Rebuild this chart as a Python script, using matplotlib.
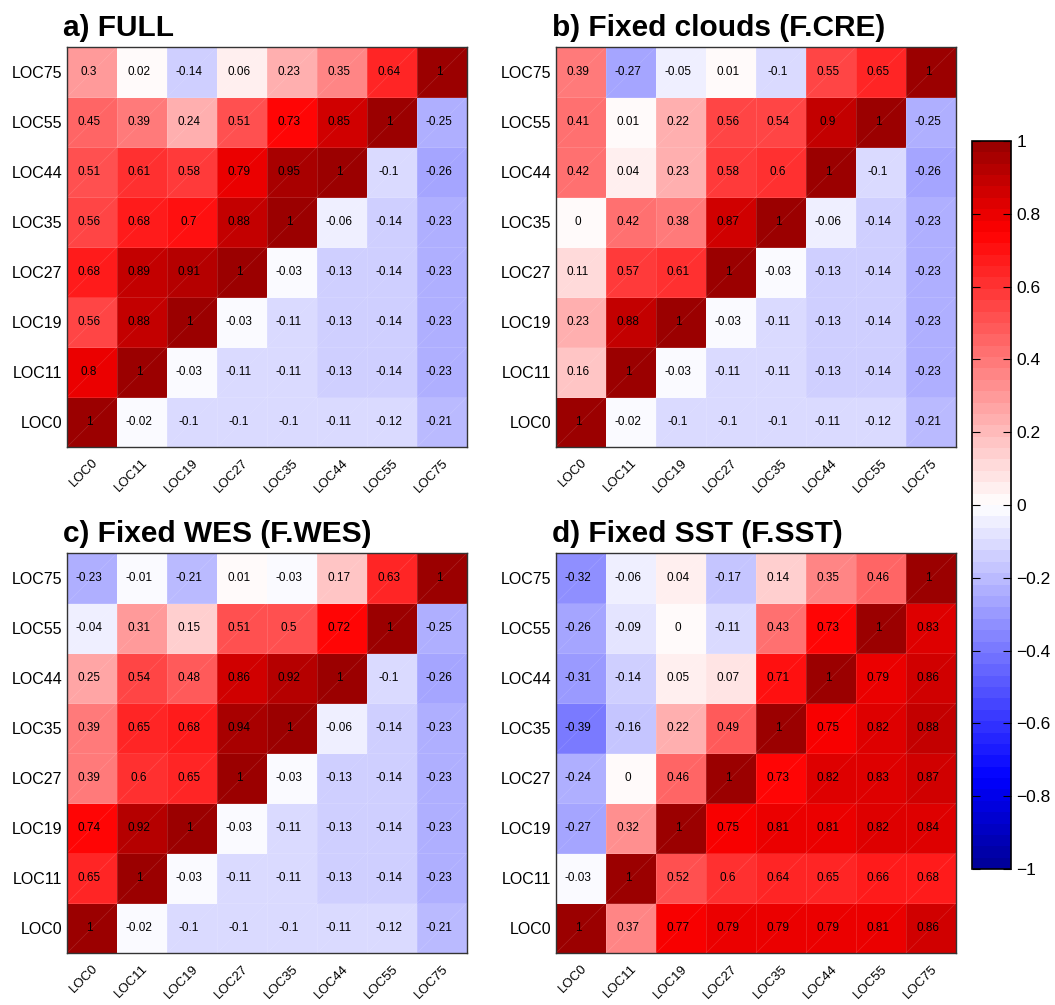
import numpy as np
import matplotlib
matplotlib.use("Agg")
import matplotlib.pyplot as plt
from matplotlib.colors import ListedColormap, BoundaryNorm

plt.rcParams['font.family'] = ['Liberation Sans', 'DejaVu Sans']

# station labels, bottom to top on the y axis, left to right on the x axis
locs = ["LOC0", "LOC11", "LOC19", "LOC27", "LOC35", "LOC44", "LOC55", "LOC75"]

# correlation matrices as printed, top row (LOC75) first
full = [
    [0.3, 0.02, -0.14, 0.06, 0.23, 0.35, 0.64, 1],
    [0.45, 0.39, 0.24, 0.51, 0.73, 0.85, 1, -0.25],
    [0.51, 0.61, 0.58, 0.79, 0.95, 1, -0.1, -0.26],
    [0.56, 0.68, 0.7, 0.88, 1, -0.06, -0.14, -0.23],
    [0.68, 0.89, 0.91, 1, -0.03, -0.13, -0.14, -0.23],
    [0.56, 0.88, 1, -0.03, -0.11, -0.13, -0.14, -0.23],
    [0.8, 1, -0.03, -0.11, -0.11, -0.13, -0.14, -0.23],
    [1, -0.02, -0.1, -0.1, -0.1, -0.11, -0.12, -0.21],
]
fixed_cre = [
    [0.39, -0.27, -0.05, 0.01, -0.1, 0.55, 0.65, 1],
    [0.41, 0.01, 0.22, 0.56, 0.54, 0.9, 1, -0.25],
    [0.42, 0.04, 0.23, 0.58, 0.6, 1, -0.1, -0.26],
    [0, 0.42, 0.38, 0.87, 1, -0.06, -0.14, -0.23],
    [0.11, 0.57, 0.61, 1, -0.03, -0.13, -0.14, -0.23],
    [0.23, 0.88, 1, -0.03, -0.11, -0.13, -0.14, -0.23],
    [0.16, 1, -0.03, -0.11, -0.11, -0.13, -0.14, -0.23],
    [1, -0.02, -0.1, -0.1, -0.1, -0.11, -0.12, -0.21],
]
fixed_wes = [
    [-0.23, -0.01, -0.21, 0.01, -0.03, 0.17, 0.63, 1],
    [-0.04, 0.31, 0.15, 0.51, 0.5, 0.72, 1, -0.25],
    [0.25, 0.54, 0.48, 0.86, 0.92, 1, -0.1, -0.26],
    [0.39, 0.65, 0.68, 0.94, 1, -0.06, -0.14, -0.23],
    [0.39, 0.6, 0.65, 1, -0.03, -0.13, -0.14, -0.23],
    [0.74, 0.92, 1, -0.03, -0.11, -0.13, -0.14, -0.23],
    [0.65, 1, -0.03, -0.11, -0.11, -0.13, -0.14, -0.23],
    [1, -0.02, -0.1, -0.1, -0.1, -0.11, -0.12, -0.21],
]
fixed_sst = [
    [-0.32, -0.06, 0.04, -0.17, 0.14, 0.35, 0.46, 1],
    [-0.26, -0.09, 0, -0.11, 0.43, 0.73, 1, 0.83],
    [-0.31, -0.14, 0.05, 0.07, 0.71, 1, 0.79, 0.86],
    [-0.39, -0.16, 0.22, 0.49, 1, 0.75, 0.82, 0.88],
    [-0.24, 0, 0.46, 1, 0.73, 0.82, 0.83, 0.87],
    [-0.27, 0.32, 1, 0.75, 0.81, 0.81, 0.82, 0.84],
    [-0.03, 1, 0.52, 0.6, 0.64, 0.65, 0.66, 0.68],
    [1, 0.37, 0.77, 0.79, 0.79, 0.79, 0.81, 0.86],
]
titles = ["a) FULL", "b) Fixed clouds (F.CRE)", "c) Fixed WES (F.WES)", "d) Fixed SST (F.SST)"]
panels = [full, fixed_cre, fixed_wes, fixed_sst]
cbar_ticks = [-1, -0.8, -0.6, -0.4, -0.2, 0, 0.2, 0.4, 0.6, 0.8, 1]


def bluewhitered(n=64, knee=0.75, dark=0.58):
    """64-step blue-white-red map, pure blue/red at +-knee, darker towards +-1"""
    centres = -1 + (np.arange(n) + 0.5) * 2.0 / n
    cols = []
    for c in centres:
        a = abs(c)
        if a <= knee:
            w = 1 - a / knee
            main = 1.0
        else:
            w = 0.0
            main = 1 - (1 - dark) * (a - knee) / (1 - knee)
        if c >= 0:
            cols.append((main, w, w))
        else:
            cols.append((w, w, main))
    return ListedColormap(cols)


cmap = bluewhitered()
levels = np.linspace(-1, 1, 65)
norm = BoundaryNorm(levels, cmap.N)

W, H = 1055, 1005
fig = plt.figure(figsize=(W / 100, H / 100), dpi=100)

# axes boxes in pixels: left, top, size
boxes = [(67, 47), (556, 47), (67, 553), (556, 553)]
size = 400

mesh = None
for (px, py), title, data in zip(boxes, titles, panels):
    ax = fig.add_axes([px / W, (H - py - size) / H, size / W, size / H])
    z = np.array(data, dtype=float)[::-1]  # bottom row = LOC0
    n = len(locs)
    mesh = ax.pcolormesh(np.arange(n + 1), np.arange(n + 1), z, cmap=cmap, norm=norm,
                         edgecolors=(1, 1, 1, 0.12), linewidth=0.6)
    # faint triangulation seams seen in the original rendering
    for i in range(n):
        for j in range(n):
            ax.plot([j, j + 1], [i, i + 1], color='white', alpha=0.12, lw=0.6)
            ax.text(j + 0.44, i + 0.5, "{:g}".format(z[i, j]), ha='center', va='center',
                    fontsize=8.5, color='black')
    ax.set_xlim(0, n)
    ax.set_ylim(0, n)
    ax.set_xticks(np.arange(n) + 0.5)
    ax.set_yticks(np.arange(n) + 0.5)
    ax.set_xticklabels(locs, rotation=45, ha='right', rotation_mode='anchor', fontsize=9.5)
    ax.set_yticklabels(locs, fontsize=11.5)
    ax.tick_params(axis='y', length=0, pad=3.5)
    ax.tick_params(axis='x', length=0, pad=7)
    for sp in ax.spines.values():
        sp.set_color('#333333')
        sp.set_linewidth(1.0)
    ax.text(-0.01, 1.027, title, transform=ax.transAxes, ha='left', va='baseline',
            fontsize=21.5, fontweight='bold')

cax = fig.add_axes([972 / W, (H - 869) / H, 39 / W, 728 / H])
cb = fig.colorbar(mesh, cax=cax, ticks=cbar_ticks)
cb.minorticks_off()
cb.outline.set_linewidth(1.2)
cb.outline.set_edgecolor('black')
cax.tick_params(direction='in', left=True, right=True, length=6, width=0.8,
                labelsize=12.5, pad=4)
cax.set_yticklabels(["{:g}".format(t).replace("-", "\u2212") for t in cbar_ticks])

fig.savefig("out.png", dpi=100)
